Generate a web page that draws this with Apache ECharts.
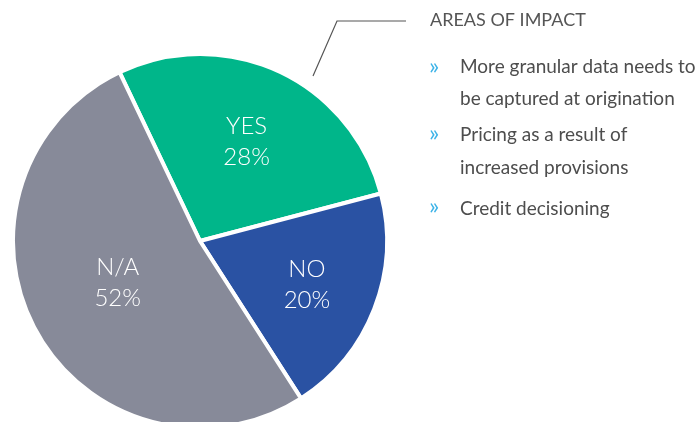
<!DOCTYPE html>
<html><head><meta charset="utf-8">
<script src="https://cdn.jsdelivr.net/npm/echarts@6/dist/echarts.min.js"></script>
<style>html,body{margin:0;padding:0;background:#fff}#c{width:700px;height:422px}</style>
</head><body><div id="c"></div>
<script>
const categories = ['YES', 'NO', 'N/A'];
const values = [28, 20, 52];
const colors = ['#00b68a', '#2a52a3', '#878a99'];
const labelOffsets = [[6, -12], [17, 9], [2, -5]];
const annotationTitle = 'AREAS OF IMPACT';
const impactItems = [
  ['More granular data needs to', 'be captured at origination'],
  ['Pricing as a result of', 'increased provisions'],
  ['Credit decisioning']
];

const chart = echarts.init(document.getElementById('c'), null, {renderer: 'canvas'});
const FONT = 'Lato, "Open Sans", sans-serif';

const graphics = [
  {type: 'polyline', shape: {points: [[313, 76], [337, 21], [406, 21]]},
   style: {stroke: '#555', lineWidth: 1.2, fill: null}},
  {type: 'text', left: 430, top: 11,
   style: {text: annotationTitle, fill: '#555', font: '400 18px ' + FONT}}
];
const itemTops = [[57, 89], [125, 158], [199]];
const bulletY = [66, 133, 206];
impactItems.forEach((lines, i) => {
  graphics.push({type: 'text', x: 429, y: bulletY[i],
    style: {text: '»', fill: '#3db3e8', font: '400 24px ' + FONT, verticalAlign: 'middle'}});
  lines.forEach((ln, j) => {
    graphics.push({type: 'text', left: 460, top: itemTops[i][j],
      style: {text: ln, fill: '#4d4d4d', font: '400 19px ' + FONT}});
  });
});

chart.setOption({
  animation: false,
  graphic: graphics,
  series: [{
    type: 'pie',
    center: [200, 241],
    radius: [0, 187],
    startAngle: 115.5,
    clockwise: true,
    avoidLabelOverlap: false,
    itemStyle: {borderColor: '#fff', borderWidth: 4},
    label: {
      show: true, position: 'inside', color: '#fff',
      fontFamily: FONT, fontSize: 24, fontWeight: 300, lineHeight: 31,
      formatter: p => p.name + '\n' + p.value + '%'
    },
    labelLine: {show: false},
    emphasis: {disabled: true},
    data: categories.map((c, i) => ({
      name: c, value: values[i],
      itemStyle: {color: colors[i]},
      label: {offset: labelOffsets[i]}
    }))
  }]
});
</script></body></html>
